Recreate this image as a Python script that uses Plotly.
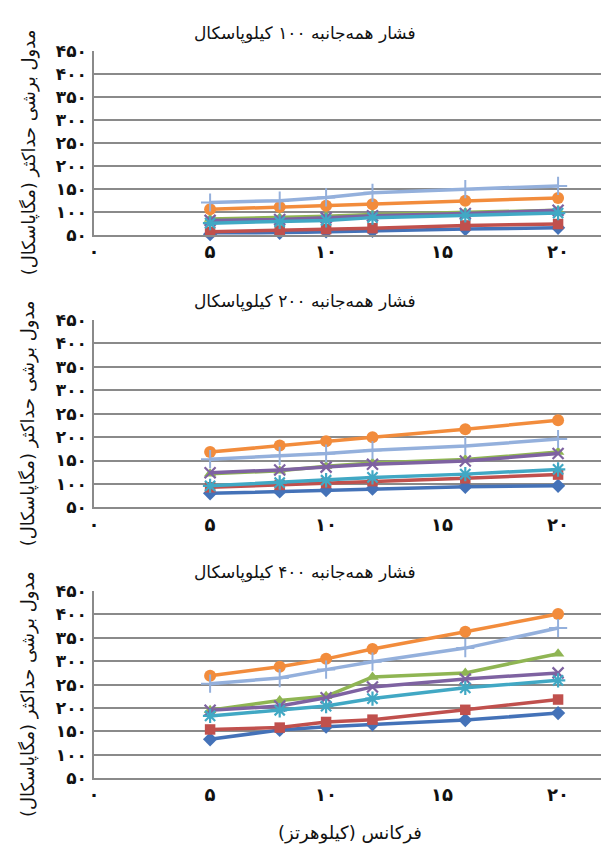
import plotly.graph_objects as go

# Frequency (kHz)
freq = [5, 8, 10, 12, 16, 20]

# Maximum shear modulus (MPa), confining pressure 100 kPa
p100_diamond = [51, 54, 57, 58, 62, 65]
p100_square = [56, 59, 62, 64, 70, 73]
p100_triangle = [84, 87, 90, 94, 98, 103]
p100_x = [81, 83, 87, 91, 96, 103]
p100_star = [75, 78, 81, 87, 92, 97]
p100_circle = [105, 110, 113, 116, 124, 130]
p100_plus = [120, 124, 131, 141, 149, 156]

# confining pressure 200 kPa
p200_diamond = [80, 84, 87, 90, 94, 96]
p200_square = [93, 98, 102, 106, 112, 120]
p200_triangle = [122, 128, 138, 145, 152, 168]
p200_x = [124, 130, 136, 142, 149, 165]
p200_star = [96, 103, 108, 114, 121, 131]
p200_circle = [168, 182, 191, 200, 217, 236]
p200_plus = [153, 160, 165, 172, 181, 196]

# confining pressure 400 kPa
p400_diamond = [133, 153, 160, 165, 174, 189]
p400_square = [154, 158, 170, 175, 196, 218]
p400_triangle = [195, 216, 225, 266, 275, 316]
p400_x = [195, 204, 222, 245, 262, 275]
p400_star = [183, 195, 204, 220, 243, 259]
p400_circle = [269, 288, 305, 326, 363, 401]
p400_plus = [252, 264, 282, 299, 328, 371]

panel_titles = [
    "فشار همه\u200cجانبه ۱۰۰ کیلوپاسکال",
    "فشار همه\u200cجانبه ۲۰۰ کیلوپاسکال",
    "فشار همه\u200cجانبه ۴۰۰ کیلوپاسکال",
]
y_title = "مدول برشی حداکثر (مگاپاسکال)\u200f"
x_title = "فرکانس (کیلوهرتز)\u200f"

y_tickvals = [50, 100, 150, 200, 250, 300, 350, 400, 450]
y_ticktext = ["۵۰", "۱۰۰", "۱۵۰", "۲۰۰", "۲۵۰", "۳۰۰", "۳۵۰", "۴۰۰", "۴۵۰"]
x_tickvals = [0, 5, 10, 15, 20]
x_ticktext = ["۰", "۵", "۱۰", "۱۵", "۲۰"]

panels = [
    [p100_diamond, p100_square, p100_triangle, p100_x, p100_star, p100_circle, p100_plus],
    [p200_diamond, p200_square, p200_triangle, p200_x, p200_star, p200_circle, p200_plus],
    [p400_diamond, p400_square, p400_triangle, p400_x, p400_star, p400_circle, p400_plus],
]

colors = ["#4472B8", "#C0504D", "#8FB553", "#7E62A1", "#41A8C4", "#F28C3C", "#94B0DC"]
markers = [
    dict(symbol="diamond", size=11),
    dict(symbol="square", size=10.5),
    dict(symbol="triangle-up", size=11),
    dict(symbol="x-thin-open", size=11, line_width=2.2),
    dict(symbol="asterisk-open", size=12, line_width=2.2),
    dict(symbol="circle", size=12),
    dict(symbol="cross-thin-open", size=13, line_width=2),
]

W, H = 601, 854
FONT = "DejaVu Sans"

# pixel geometry of the three plot areas (top, bottom in px)
panel_px = [(42, 230), (317.5, 509.3), (595, 786.5)]
title_py = [24, 298, 576]
x_left_px = 89

fig = go.Figure()
layout_axes = {}
annotations = []

for i, series in enumerate(panels):
    xa = "x" if i == 0 else f"x{i + 1}"
    ya = "y" if i == 0 else f"y{i + 1}"
    for vals, col, mk in zip(series, colors, markers):
        m = dict(mk)
        m["color"] = col
        if "line_width" in m:
            lw = m.pop("line_width")
            m["line"] = dict(color=col, width=lw)
        fig.add_trace(go.Scatter(
            x=freq, y=vals, mode="lines+markers",
            line=dict(color=col, width=3.5),
            marker=m, xaxis=xa, yaxis=ya, showlegend=False,
            cliponaxis=False,
        ))
    top, bot = panel_px[i]
    xkey = "xaxis" if i == 0 else f"xaxis{i + 1}"
    ykey = "yaxis" if i == 0 else f"yaxis{i + 1}"
    layout_axes[xkey] = dict(
        domain=[x_left_px / W, 1.0], range=[0, 21.85], anchor=ya,
        tickvals=x_tickvals, ticktext=x_ticktext,
        showgrid=False, zeroline=False, showline=True,
        linecolor="#8a8a8a", linewidth=1.6, ticks="",
        tickfont=dict(family=FONT, size=18, color="#111111", weight="bold"),
        ticklabelstandoff=0,
    )
    layout_axes[ykey] = dict(
        domain=[1 - bot / H, 1 - top / H], range=[50, 450], anchor=xa,
        tickvals=y_tickvals, ticktext=y_ticktext,
        showgrid=True, gridcolor="#8a8a8a", gridwidth=1.6,
        zeroline=False, showline=True, linecolor="#8a8a8a", linewidth=1.6,
        ticks="", tickfont=dict(family=FONT, size=17, color="#111111", weight="bold"),
        ticklabelstandoff=2,
    )
    annotations.append(dict(
        text=panel_titles[i], x=302 / W, y=1 - title_py[i] / H,
        xref="paper", yref="paper", showarrow=False,
        font=dict(family=FONT, size=17, color="#111111"),
        xanchor="center", yanchor="middle",
    ))
    annotations.append(dict(
        text=y_title, x=23 / W, y=1 - ((top + bot) / 2 + 10) / H,
        xref="paper", yref="paper", showarrow=False, textangle=-90,
        font=dict(family=FONT, size=18, color="#111111"),
        xanchor="center", yanchor="middle",
    ))

annotations.append(dict(
    text=x_title, x=347 / W, y=1 - 843 / H, xref="paper", yref="paper",
    showarrow=False, font=dict(family=FONT, size=18, color="#111111"),
    xanchor="center", yanchor="middle",
))

fig.update_layout(
    width=W, height=H, margin=dict(l=0, r=0, t=0, b=0),
    paper_bgcolor="white", plot_bgcolor="white",
    annotations=annotations, **layout_axes,
)

fig.write_html("out.html")
